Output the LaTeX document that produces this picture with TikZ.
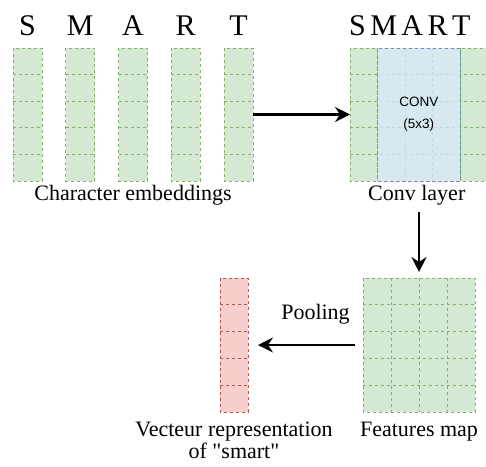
\documentclass[tikz,border=0pt]{standalone}
\usepackage{fontspec}
\setmainfont{Liberation Serif}[Ligatures=TeXOff]
\setsansfont{Liberation Sans}
\usetikzlibrary{arrows.meta,positioning}

\definecolor{gruenfill}{HTML}{D5E8D4}
\definecolor{gruenrand}{HTML}{82B366}
\definecolor{blaufill}{HTML}{DAE8FC}
\definecolor{blaurand}{HTML}{6C8EBF}
\definecolor{rotfill}{HTML}{F8CECC}
\definecolor{rotrand}{HTML}{B85450}

\tikzset{
  zelle/.style={fill=gruenfill, minimum width=29pt, minimum height=26.6pt, inner sep=0pt, outer sep=0pt},
  rotzelle/.style={zelle, fill=rotfill, minimum width=28pt, minimum height=26.8pt},
  gitter/.style={draw=gruenrand, dash pattern=on 3pt off 3pt, line width=0.8pt},
  rotgitter/.style={gitter, draw=rotrand},
  buchst/.style={font=\fontsize{30}{30}\selectfont, inner sep=0pt},
  beschr/.style={font=\fontsize{22}{22}\selectfont, inner sep=0pt, align=center},
  pfeil/.style={->, line width=2.2pt},
}

\begin{document}
\begin{tikzpicture}[x=1pt, y=-1pt, >={Stealth[length=15pt,width=15pt,inset=5pt]}]
\useasboundingbox (0,0) rectangle (486,466);

% Embeddings der Zeichen
\foreach \b [count=\i] in {S,M,A,R,T} {
  \foreach \j in {1,...,5}
    \node[zelle] (e\i-\j) at ({27.5+(\i-1)*52.75}, {61.3+(\j-1)*26.6}) {};
  \draw[gitter] (e\i-1.north west) rectangle (e\i-5.south east);
  \foreach \j in {1,...,4}
    \draw[gitter] (e\i-\j.south west) -- (e\i-\j.south east);
  \node[buchst, above=12pt of e\i-1] (b\i) {\b};
}

% Conv-Schicht
\foreach \i in {1,...,5}
  \foreach \j in {1,...,5}
    \node[zelle, minimum width=27.5pt] (k\i-\j) at ({363.75+(\i-1)*27.5}, {61.3+(\j-1)*26.6}) {};
\draw[gitter] (k1-1.north west) rectangle (k5-5.south east);
\foreach \j in {1,...,4}
  \draw[gitter] (k1-\j.south west) -- (k5-\j.south east);
\foreach \i in {1,...,4}
  \draw[gitter] (k\i-1.north east) -- (k\i-5.south east);
\node[draw=blaurand, dash pattern=on 3pt off 3pt, line width=0.8pt, fill=blaufill,
  fill opacity=0.75, text opacity=1, inner sep=0pt,
  minimum width=82.5pt, minimum height=133pt, align=center,
  font=\sffamily\fontsize{13.5}{22}\selectfont] (conv) at (k3-3) {CONV\\(5x3)};
\node[buchst, above=12pt of k3-1, xshift=-9pt] (wort) {S\kern4.5pt M\kern4.5pt A\kern4.5pt R\kern4.5pt T};

% Features map
\foreach \i in {1,...,4}
  \foreach \j in {1,...,5}
    \node[zelle, minimum width=28pt, minimum height=26.8pt] (m\i-\j) at ({377+(\i-1)*28}, {291.4+(\j-1)*26.8}) {};
\draw[gitter] (m1-1.north west) rectangle (m4-5.south east);
\foreach \j in {1,...,4}
  \draw[gitter] (m1-\j.south west) -- (m4-\j.south east);
\foreach \i in {1,...,3}
  \draw[gitter] (m\i-1.north east) -- (m\i-5.south east);

% Vektor
\foreach \j in {1,...,5}
  \node[rotzelle] (v\j) at (234, {291.4+(\j-1)*26.8}) {};
\draw[rotgitter] (v1.north west) rectangle (v5.south east);
\foreach \j in {1,...,4}
  \draw[rotgitter] (v\j.south west) -- (v\j.south east);

% Beschriftungen
\node[beschr, below=4pt of e3-5] (lemb) {Character embeddings};
\node[beschr, below=4pt of k3-5, xshift=-2pt] (lconv) {Conv layer};
\node[beschr, below=10pt of m2-5.south east] (lmap) {Features map};
\node[beschr, below=10pt of v5] (lvek) {Vecteur representation\\of "smart"};

% Pfeile
\draw[pfeil] (e5-3.east) -- (k1-3.west);
\draw[pfeil, shorten <=7pt, shorten >=6pt] (m2-1.north east |- lconv.south) -- (m2-1.north east);
\draw[pfeil, shorten <=8pt, shorten >=10pt] (m1-3.west) -- node[beschr, above=20pt, xshift=10pt] (lpool) {Pooling} (v3.east);

\end{tikzpicture}
\end{document}
